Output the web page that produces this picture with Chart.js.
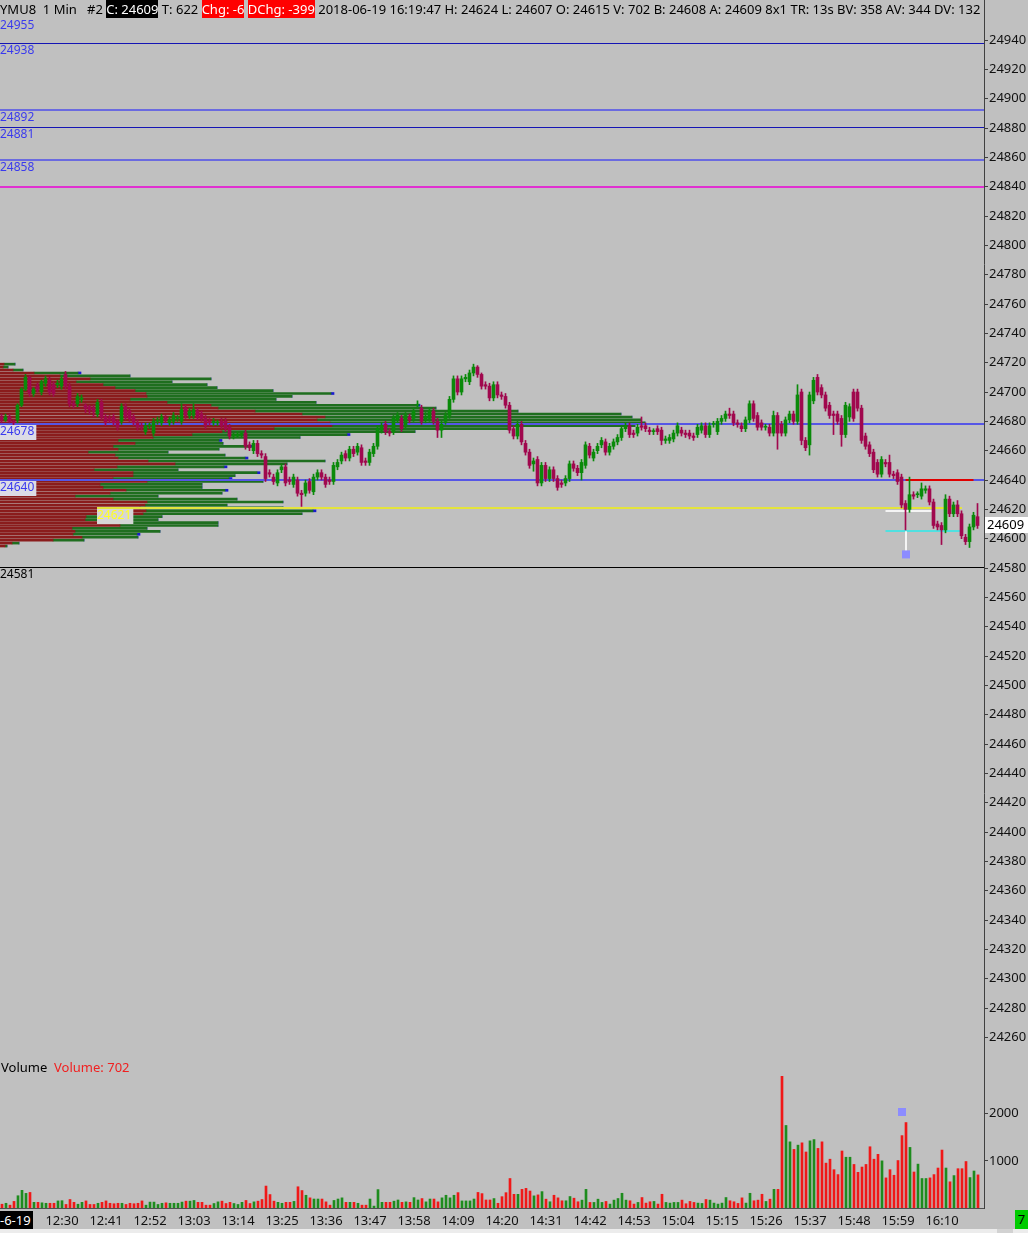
<!DOCTYPE html>
<html>
<head>
<meta charset="utf-8">
<title>YMU8 1 Min</title>
<script src="https://cdn.jsdelivr.net/npm/chart.js@4.4.1/dist/chart.umd.min.js"></script>
<style>
  html, body { margin: 0; padding: 0; }
  body { width: 1028px; height: 1233px; background: #c0c0c0; position: relative; overflow: hidden;
         font-family: "Noto Sans", sans-serif; font-size: 13px; color: #000; }
  canvas { position: absolute; left: 0; }
  #profile, #price { top: 0; }
  #volume { top: 1057px; }
  #header { position: absolute; left: 0; top: 0; width: 981px; height: 18px; line-height: 18px;
            white-space: pre; overflow: hidden; }
  #header .blk { background: #000; color: #fff; }
  #header .red { background: #f00; color: #fff; }
  #volTitle { position: absolute; left: 1px; top: 1058px; line-height: 18px; white-space: pre; }
  #volTitle .red { color: #f02020; }
  #dateBox { position: absolute; left: 0; top: 1211px; width: 33px; height: 18px; line-height: 18px;
             background: #000; color: #fff; overflow: hidden; white-space: pre; }
  #barBox { position: absolute; left: 1015px; top: 1210px; width: 13px; height: 19px; line-height: 19px;
            background: #00cc00; color: #000; text-align: center; }
  #strip { position: absolute; left: 0; top: 1229px; width: 1028px; height: 4px; background: #ececec; }
  #thumb { position: absolute; left: 997px; top: 1229px; width: 16px; height: 4px; background: #d2d2d2; }
</style>
</head>
<body>
<canvas id="profile" width="984" height="1057"></canvas>
<canvas id="price" width="1028" height="1057"></canvas>
<canvas id="volume" width="1028" height="176"></canvas>
<div id="header">YMU8  1 Min   #2 <span class="blk">C: 24609</span> T: 622 <span class="red">Chg: -6</span> <span class="red">DChg: -399</span> 2018-06-19 16:19:47 H: 24624 L: 24607 O: 24615 V: 702 B: 24608 A: 24609 8x1 TR: 13s BV: 358 AV: 344 DV: 132</div>
<div id="volTitle">Volume  <span class="red">Volume: 702</span></div>
<div id="dateBox">-6-19</div>
<div id="barBox">7</div>
<div id="strip"></div>
<div id="thumb"></div>
<script>
// barre da 1 minuto, dalle 12:15 alle 16:19
const firstBar = '12:15';

const open = [
  24683,24681,24683,24680,24681,24691,24702,24710,24699,24704,
  24700,24706,24708,24705,24705,24704,24712,24704,24692,24692,
  24695,24691,24690,24689,24685,24693,24683,24682,24683,24680,
  24680,24690,24687,24683,24679,24677,24673,24677,24672,24680,
  24679,24682,24679,24680,24682,24680,24689,24684,24684,24687,
  24685,24682,24680,24679,24679,24680,24680,24676,24670,24670,
  24671,24672,24664,24660,24665,24658,24656,24645,24642,24638,
  24647,24649,24640,24637,24640,24631,24631,24639,24632,24642,
  24645,24642,24640,24639,24649,24653,24658,24655,24661,24659,
  24662,24653,24652,24658,24663,24674,24678,24673,24673,24681,
  24682,24677,24683,24682,24691,24689,24681,24682,24687,24680,
  24674,24680,24684,24695,24709,24700,24709,24707,24713,24717,
  24712,24705,24704,24696,24705,24698,24697,24691,24675,24670,
  24678,24665,24659,24651,24654,24638,24650,24641,24647,24641,
  24638,24638,24641,24651,24648,24645,24650,24663,24655,24660,
  24664,24666,24659,24663,24666,24669,24675,24677,24672,24672,
  24677,24677,24674,24673,24675,24674,24667,24667,24668,24672,
  24674,24672,24672,24670,24671,24674,24677,24671,24678,24673,
  24680,24682,24685,24685,24679,24677,24675,24681,24692,24684,
  24679,24676,24676,24672,24684,24678,24672,24681,24685,24680,
  24700,24667,24664,24694,24710,24703,24698,24691,24685,24685,
  24682,24671,24683,24700,24700,24689,24670,24664,24659,24652,
  24644,24652,24652,24644,24645,24642,24624,24620,24630,24630,
  24629,24633,24634,24625,24610,24609,24606,24627,24617,24623,
  24617,24601,24598,24608,24615
];
const high = [
  24685,24685,24685,24681,24692,24703,24712,24711,24703,24706,
  24708,24711,24710,24707,24708,24711,24714,24706,24694,24699,
  24698,24692,24691,24691,24695,24695,24685,24684,24685,24681,
  24692,24692,24689,24685,24681,24679,24679,24679,24682,24683,
  24685,24684,24683,24686,24684,24692,24691,24689,24692,24689,
  24687,24684,24682,24682,24681,24682,24682,24678,24672,24673,
  24673,24674,24666,24667,24667,24660,24658,24647,24644,24647,
  24651,24651,24642,24644,24642,24633,24640,24641,24644,24647,
  24647,24644,24642,24652,24654,24659,24660,24663,24663,24665,
  24664,24655,24661,24665,24677,24679,24680,24675,24684,24686,
  24684,24686,24685,24689,24694,24691,24686,24689,24689,24682,
  24680,24686,24697,24711,24711,24711,24712,24715,24719,24718,
  24713,24707,24706,24707,24707,24700,24699,24693,24677,24680,
  24680,24667,24661,24655,24656,24652,24652,24649,24649,24643,
  24640,24643,24653,24653,24650,24654,24666,24665,24661,24665,
  24669,24668,24665,24668,24671,24677,24679,24679,24674,24678,
  24683,24679,24676,24675,24677,24676,24670,24671,24674,24679,
  24676,24674,24674,24672,24678,24679,24679,24679,24680,24682,
  24684,24687,24689,24687,24681,24679,24683,24694,24694,24686,
  24681,24678,24678,24687,24686,24680,24683,24687,24687,24705,
  24702,24669,24700,24710,24712,24705,24700,24693,24687,24687,
  24684,24693,24692,24702,24702,24691,24672,24666,24661,24654,
  24656,24654,24657,24646,24647,24644,24626,24642,24632,24632,
  24638,24636,24636,24627,24612,24611,24630,24629,24625,24626,
  24619,24603,24610,24618,24624
];
const low = [
  24679,24680,24679,24677,24679,24690,24701,24697,24697,24700,
  24698,24704,24698,24697,24703,24702,24702,24690,24689,24690,
  24693,24686,24685,24683,24683,24681,24677,24679,24677,24674,
  24678,24681,24680,24677,24674,24674,24671,24675,24670,24678,
  24677,24679,24677,24678,24680,24678,24682,24682,24682,24681,
  24680,24675,24677,24677,24677,24675,24673,24668,24668,24669,
  24669,24661,24660,24658,24656,24655,24639,24642,24637,24636,
  24645,24636,24637,24635,24629,24622,24629,24631,24630,24640,
  24640,24635,24637,24637,24647,24651,24653,24653,24656,24657,
  24650,24650,24650,24656,24661,24672,24671,24670,24671,24679,
  24673,24675,24679,24680,24689,24678,24679,24680,24678,24669,
  24669,24678,24682,24693,24698,24698,24707,24705,24711,24710,
  24702,24702,24694,24694,24696,24695,24689,24672,24668,24668,
  24664,24657,24648,24646,24636,24636,24639,24639,24639,24633,
  24635,24636,24639,24646,24643,24640,24648,24655,24653,24658,
  24662,24657,24657,24661,24664,24667,24673,24669,24669,24670,
  24674,24673,24671,24671,24671,24664,24665,24665,24666,24670,
  24670,24669,24668,24667,24669,24672,24669,24669,24676,24671,
  24678,24680,24682,24677,24676,24673,24673,24679,24680,24674,
  24674,24674,24670,24670,24661,24670,24670,24679,24678,24678,
  24664,24660,24657,24692,24698,24696,24687,24682,24671,24678,
  24663,24669,24680,24680,24687,24665,24661,24656,24645,24642,
  24642,24649,24642,24641,24637,24621,24606,24618,24627,24628,
  24627,24631,24623,24607,24606,24596,24604,24615,24615,24615,
  24600,24596,24594,24606,24607
];
const close = [
  24681,24683,24680,24679,24691,24702,24710,24699,24702,24702,
  24707,24709,24700,24699,24706,24709,24704,24692,24691,24697,
  24696,24689,24688,24687,24693,24683,24679,24681,24679,24676,
  24690,24683,24682,24679,24676,24676,24677,24677,24680,24681,
  24683,24681,24681,24684,24682,24688,24684,24687,24688,24683,
  24682,24677,24679,24680,24679,24677,24675,24670,24671,24671,
  24671,24663,24662,24665,24658,24657,24641,24644,24639,24645,
  24649,24638,24639,24642,24631,24630,24638,24633,24642,24645,
  24642,24637,24639,24650,24652,24657,24655,24661,24658,24663,
  24652,24652,24659,24663,24675,24677,24673,24672,24682,24684,
  24675,24684,24681,24687,24691,24680,24683,24687,24680,24674,
  24678,24684,24695,24709,24700,24709,24710,24713,24717,24712,
  24704,24704,24696,24705,24698,24697,24691,24674,24670,24678,
  24666,24659,24650,24653,24638,24650,24641,24647,24641,24635,
  24637,24641,24651,24648,24645,24652,24664,24657,24659,24663,
  24667,24659,24663,24666,24669,24675,24677,24671,24671,24676,
  24676,24675,24673,24673,24673,24667,24668,24669,24672,24677,
  24672,24671,24670,24669,24676,24677,24671,24677,24678,24680,
  24682,24685,24684,24679,24678,24675,24681,24692,24682,24676,
  24676,24676,24672,24684,24672,24672,24681,24685,24680,24698,
  24667,24662,24698,24708,24700,24698,24689,24684,24684,24680,
  24671,24691,24690,24682,24689,24667,24663,24658,24647,24644,
  24654,24651,24644,24643,24639,24623,24620,24630,24629,24630,
  24634,24634,24625,24609,24608,24606,24627,24617,24623,24617,
  24602,24598,24608,24616,24609
];
const volume = [
  80,100,60,140,260,375,310,330,120,120,
  110,100,100,100,150,155,75,180,120,80,
  120,150,75,75,100,120,150,100,90,100,
  100,75,100,90,100,150,60,125,125,75,
  100,110,100,100,100,125,145,145,160,120,
  120,60,60,95,130,145,95,120,95,75,
  120,160,95,130,145,180,465,285,145,120,
  100,120,120,140,450,370,270,215,190,190,
  190,130,60,160,190,215,120,120,120,100,
  60,60,190,40,390,120,120,120,145,170,
  120,130,120,220,170,200,130,190,190,130,
  215,270,215,270,326,150,150,150,190,330,
  305,170,170,200,100,240,325,625,290,290,
  395,416,360,257,278,347,187,132,270,215,
  153,153,243,208,132,167,395,118,118,187,
  118,139,83,167,201,312,167,153,83,118,
  222,104,132,139,83,291,118,104,118,118,
  167,90,139,118,104,97,180,167,104,83,
  104,222,153,132,97,215,104,312,153,167,
  291,139,187,395,395,2790,1749,1402,1242,1332,
  1381,1187,1423,1450,1263,1402,951,1034,812,708,
  1208,1076,1076,923,756,868,923,1298,1034,1138,
  999,638,812,694,1006,1534,1811,1284,763,930,
  625,625,638,708,847,1228,847,555,687,833,
  833,985,645,784,702
];

// profilo volumi a sinistra (righe di 2 punti)
const profilePrices = [
  24719,24717,24715,24713,24711,24709,24707,24705,24703,24701,
  24699,24697,24695,24693,24691,24689,24687,24685,24683,24681,
  24679,24677,24675,24673,24671,24669,24667,24665,24663,24661,
  24659,24657,24655,24653,24651,24649,24647,24645,24643,24641,
  24639,24637,24635,24633,24631,24629,24627,24625,24623,24621,
  24619,24617,24615,24613,24611,24609,24607,24605,24603,24601,
  24599,24597,24595
];
const profileBid = [
  4,3,13,34,60,90,76,103,115,135,
  146,147,130,167,211,218,255,302,325,317,
  330,332,274,222,192,153,118,135,113,118,
  88,115,118,148,175,117,94,133,133,113,
  147,100,103,126,110,75,113,147,145,140,
  146,143,86,85,120,120,72,75,73,82,
  53,12,5
];
const profileAsk = [
  11,5,10,44,70,121,96,104,102,138,
  185,145,146,149,206,218,263,319,307,324,
  315,303,234,193,155,147,101,88,136,101,
  80,110,127,177,112,107,84,124,102,116,
  116,102,99,99,112,83,124,136,82,143,
  167,159,76,73,98,98,75,85,64,56,
  31,7,2
];
const profileTip = [
  0,0,0,3,0,0,0,0,0,0,
  3,0,0,0,3,0,0,0,0,0,
  0,0,0,0,3,0,3,0,3,0,
  0,0,3,0,0,3,0,3,0,3,
  0,0,0,3,0,0,0,0,0,0,
  3,0,0,0,0,0,0,0,3,0,
  0,0,0
];

// livelli orizzontali
const levelPrices = [24955, 24938, 24892, 24881, 24858, 24840, 24678, 24640, 24621, 24581];
const levelLabels = ['24955', '24938', '24892', '24881', '24858', '', '24678', '24640', '24621', '24581'];
const levelStyle = [
  { width: 0, text: '#3a3aee' },
  { color: '#1414b4', width: 1, text: '#3a3aee' },
  { color: '#6a6ae0', width: 2, text: '#3a3aee' },
  { color: '#1414b4', width: 1, text: '#3a3aee' },
  { color: '#6a6ae0', width: 2, text: '#3a3aee' },
  { color: '#e030d0', width: 2 },
  { color: '#5656e6', width: 2, text: '#3a3aee', box: '#dcdce6' },
  { color: '#5656e6', width: 2, text: '#3a3aee', box: '#dcdce6' },
  { color: '#e4e43c', width: 2, text: '#ffff20', box: '#d6d6d6', from: 97, to: 962, labelX: 97 },
  { color: '#000000', width: 1, text: '#000000' }
];

// segmenti corti sull'ultima parte della sessione
const markPrices = [24640, 24619, 24605];
const markFrom = [226, 221, 221];
const markTo = [243, 233, 240];
const markColors = ['#e00000', '#f4f4f4', '#50e0e0'];

const priceTicks = [];
for (let p = 24260; p <= 24940; p += 20) priceTicks.push(p);
const volumeTicks = [1000, 2000];
const timeLabels = ['12:30','12:41','12:52','13:03','13:14','13:25','13:36','13:47','13:58','14:09','14:20',
                    '14:31','14:42','14:53','15:04','15:15','15:26','15:37','15:48','15:59','16:10'];
const lastPrice = 24609;

function minutes(t) { const [h, m] = t.split(':').map(Number); return h * 60 + m; }
const timeTickIndex = timeLabels.map(t => minutes(t) - minutes(firstBar));

const UP = '#0a8a0a', DOWN = '#a0084e';
const candleColors = close.map((c, i) => c >= open[i] ? UP : DOWN);
const volColors = close.map((c, i) => c >= open[i] ? '#1e8c1e' : '#f01818');

Chart.defaults.font.family = '"Noto Sans", sans-serif';
Chart.defaults.font.size = 13;
Chart.defaults.color = '#000';

// asse destro a larghezza fissa, senza margini extra
function fixRightAxis(axis) {
  axis.width = 44;
  axis.paddingTop = 0;
  axis.paddingBottom = 0;
}

// profilo (canvas sotto)
new Chart(document.getElementById('profile'), {
  type: 'bar',
  data: {
    datasets: [
      { data: profilePrices.map((p, i) => ({ y: p, x: profileBid[i] })), backgroundColor: '#8a1c1c' },
      { data: profilePrices.map((p, i) => ({ y: p, x: profileAsk[i] })), backgroundColor: '#1f6e1f' },
      { data: profilePrices.map((p, i) => ({ y: p, x: profileTip[i] })), backgroundColor: '#1a1ad0' }
    ].map(d => Object.assign(d, { barThickness: 2, grouped: false, borderWidth: 0 }))
  },
  options: {
    indexAxis: 'y',
    responsive: false,
    animation: false,
    events: [],
    plugins: { legend: { display: false }, tooltip: { enabled: false } },
    scales: {
      x: { type: 'linear', min: 0, max: 984, stacked: true, display: false },
      y: { type: 'linear', min: 24246.6, max: 24967.3, offset: false, stacked: true, display: false }
    }
  }
});

const levelsPlugin = {
  id: 'levels',
  beforeDatasetsDraw(chart) {
    const { ctx, chartArea, scales: { x, y } } = chart;
    ctx.save();
    levelPrices.forEach((p, k) => {
      const s = levelStyle[k];
      if (!s.width) return;
      const py = Math.round(y.getPixelForValue(p)) + (s.width % 2 ? 0.5 : 0);
      ctx.strokeStyle = s.color;
      ctx.lineWidth = s.width;
      ctx.beginPath();
      ctx.moveTo(s.from || 0, py);
      ctx.lineTo(s.to || chartArea.right, py);
      ctx.stroke();
    });
    markPrices.forEach((p, k) => {
      const py = Math.round(y.getPixelForValue(p));
      ctx.strokeStyle = markColors[k];
      ctx.lineWidth = 2;
      ctx.beginPath();
      ctx.moveTo(x.getPixelForValue(markFrom[k]), py);
      ctx.lineTo(x.getPixelForValue(markTo[k]), py);
      ctx.stroke();
    });
    // asta bianca e quadratino blu sotto il minimo
    const sx = Math.round(x.getPixelForValue(226));
    ctx.strokeStyle = '#f4f4f4';
    ctx.lineWidth = 2;
    ctx.beginPath();
    ctx.moveTo(sx, y.getPixelForValue(24605));
    ctx.lineTo(sx, y.getPixelForValue(24591));
    ctx.stroke();
    ctx.fillStyle = '#8c8cff';
    ctx.fillRect(sx - 4, y.getPixelForValue(24592), 8, 8);
    ctx.restore();
  },
  afterDatasetsDraw(chart) {
    const { ctx, scales: { y } } = chart;
    ctx.save();
    ctx.font = '12px "Noto Sans", sans-serif';
    ctx.textBaseline = 'top';
    levelPrices.forEach((p, k) => {
      const s = levelStyle[k];
      if (!levelLabels[k]) return;
      const py = Math.round(y.getPixelForValue(p));
      const lx = s.labelX || 0;
      const w = ctx.measureText(levelLabels[k]).width;
      if (s.box) {
        ctx.fillStyle = s.box;
        ctx.fillRect(lx, py + 1, w + 2, 15);
      }
      ctx.fillStyle = s.text;
      ctx.fillText(levelLabels[k], lx, py + 2);
    });
    ctx.restore();
  },
  afterDraw(chart) {
    const { ctx, chartArea, scales: { y } } = chart;
    const py = Math.round(y.getPixelForValue(lastPrice));
    ctx.save();
    ctx.fillStyle = '#ffffff';
    ctx.fillRect(chartArea.right + 1, py - 8, 44, 16);
    ctx.fillStyle = '#000';
    ctx.font = '13px "Noto Sans", sans-serif';
    ctx.textBaseline = 'middle';
    ctx.fillText(String(lastPrice), chartArea.right + 3, py);
    ctx.restore();
  }
};

// prezzo: candele come barre flottanti
new Chart(document.getElementById('price'), {
  type: 'bar',
  data: {
    datasets: [
      { data: open.map((o, i) => ({ x: i, y: [low[i], high[i]] })), backgroundColor: candleColors, barThickness: 1, grouped: false, order: 2 },
      { data: open.map((o, i) => ({ x: i, y: [o, close[i]] })), backgroundColor: candleColors, barThickness: 3, grouped: false, minBarLength: 1, order: 1 }
    ]
  },
  options: {
    responsive: false,
    animation: false,
    events: [],
    plugins: { legend: { display: false }, tooltip: { enabled: false } },
    scales: {
      x: { type: 'linear', min: -0.375, max: 245.625, offset: false, display: false },
      y: {
        position: 'right', min: 24246.6, max: 24967.3,
        afterFit: fixRightAxis,
        afterBuildTicks: (axis) => { axis.ticks = priceTicks.map(v => ({ value: v })); },
        grid: { drawOnChartArea: false, tickLength: 4, color: '#404040' },
        border: { color: '#404040' },
        ticks: { padding: 1, color: '#111', callback: (v) => String(v) }
      }
    }
  },
  plugins: [levelsPlugin]
});

const volMarkPlugin = {
  id: 'volMark',
  afterDatasetsDraw(chart) {
    const { ctx, scales: { x, y } } = chart;
    ctx.save();
    ctx.fillStyle = '#8c8cff';
    ctx.fillRect(Math.round(x.getPixelForValue(225)) - 4, Math.round(y.getPixelForValue(2040)) - 4, 8, 8);
    ctx.restore();
  }
};

// volume
new Chart(document.getElementById('volume'), {
  type: 'bar',
  data: {
    datasets: [{ data: volume.map((v, i) => ({ x: i, y: v })), backgroundColor: volColors, barThickness: 2, grouped: false }]
  },
  options: {
    responsive: false,
    animation: false,
    events: [],
    plugins: { legend: { display: false }, tooltip: { enabled: false } },
    scales: {
      x: {
        type: 'linear', min: -0.5, max: 245.5, offset: false,
        afterFit: (axis) => { axis.height = 25; axis.paddingLeft = 0; axis.paddingRight = 0; },
        afterBuildTicks: (axis) => { axis.ticks = timeTickIndex.map(v => ({ value: v })); },
        grid: { display: false },
        border: { color: '#505050' },
        ticks: { autoSkip: false, maxRotation: 0, padding: -3, color: '#111',
                 callback: (value) => timeLabels[timeTickIndex.indexOf(value)] }
      },
      y: {
        position: 'right', min: 0, max: 3200,
        afterFit: fixRightAxis,
        afterBuildTicks: (axis) => { axis.ticks = volumeTicks.map(v => ({ value: v })); },
        grid: { drawOnChartArea: false, tickLength: 4, color: '#404040' },
        border: { color: '#404040' },
        ticks: { padding: 1, color: '#111', callback: (v) => String(v) }
      }
    }
  },
  plugins: [volMarkPlugin]
});
</script>
</body>
</html>
